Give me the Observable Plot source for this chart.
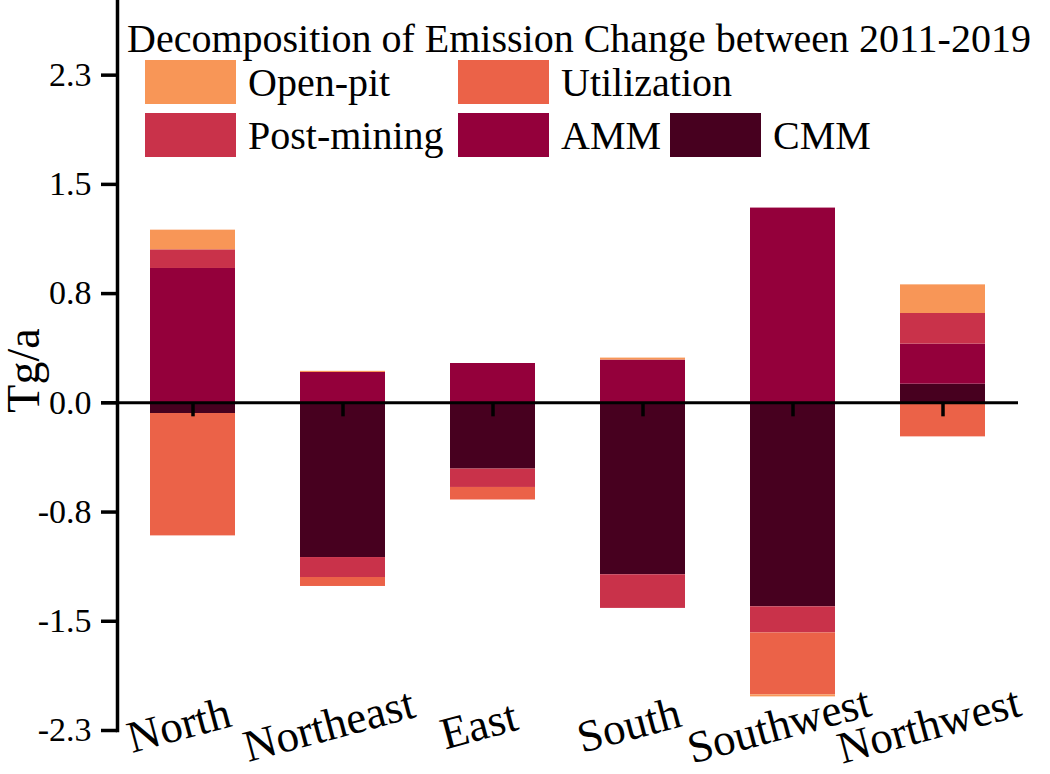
<!DOCTYPE html>
<html>
<head>
<meta charset="utf-8">
<script src="https://cdn.jsdelivr.net/npm/d3@7"></script>
<script src="https://cdn.jsdelivr.net/npm/@observablehq/plot@0.6"></script>
<style>
  html, body { margin: 0; padding: 0; background: white; }
  #wrap { position: relative; width: 1050px; height: 774px; }
  #legend { position: absolute; left: 0; top: 0; pointer-events: none; }
  #wrap svg text { font-family: 'Liberation Serif', 'Times New Roman', serif; }
</style>
</head>
<body>
<div id="wrap"></div>
<script>
// ---- data ----
const regions = ["North", "Northeast", "East", "South", "Southwest", "Northwest"];
const components = ["CMM", "AMM", "Post-mining", "Utilization", "Open-pit"]; // stacking order
const cmm        = [-0.075, -1.086, -0.465, -1.207, -1.432, 0.131];
const amm        = [ 0.943,  0.213,  0.276,  0.300,  1.367, 0.281];
const postMining = [ 0.131, -0.140, -0.129, -0.236, -0.183, 0.215];
const utilization= [-0.859, -0.063, -0.088,  0.000, -0.435, -0.239];
const openPit    = [ 0.138,  0.008,  0.000,  0.014, -0.014, 0.201];
const colors = ["#47001F", "#94003B", "#C9324A", "#EB6248", "#F89657"];
const yTicks = [-2.3, -1.5333, -0.7667, 0, 0.7667, 1.5333, 2.3];
const yTickLabels = ["-2.3", "-1.5", "-0.8", "0.0", "0.8", "1.5", "2.3"];
const legendTitle = "Decomposition of Emission Change between 2011-2019";
const legendOrder = ["Open-pit", "Utilization", "Post-mining", "AMM", "CMM"];
const yLabel = "Tg/a";

// ---- table ----
const series = [cmm, amm, postMining, utilization, openPit];
const data = [];
regions.forEach((r, i) => {
  components.forEach((c, j) => data.push({region: r, component: c, value: series[j][i]}));
});

const font = "Liberation Serif";

const chart = Plot.plot({
  width: 1050,
  height: 774,
  marginLeft: 117,
  marginRight: 32,
  marginTop: 0,
  marginBottom: 44,
  style: {fontFamily: font, background: "white", color: "black", overflow: "visible"},
  x: {domain: regions, paddingInner: 0.435, paddingOuter: 0.209, axis: null},
  y: {domain: [-2.3, 2.824], axis: null},
  color: {domain: components, range: colors},
  marks: [
    Plot.barY(data, {x: "region", y: "value", fill: "component"}),
    Plot.ruleY([0], {stroke: "black", strokeWidth: 3, insetLeft: -16}),
    Plot.ruleX(regions, {x: d => d, y1: () => 0, y2: () => 0, insetBottom: -14, stroke: "black", strokeWidth: 3.5}),
    Plot.axisY({
      ticks: yTicks,
      tickFormat: (d) => yTickLabels[yTicks.indexOf(d)],
      tickSize: 16,
      tickPadding: 10,
      strokeWidth: 3.5,
      fontSize: 34,
      fontFamily: font,
      label: null
    }),
    Plot.frame({anchor: "left", stroke: "black", strokeWidth: 3.5}),
    Plot.text(regions, {
      x: d => d, text: d => d, frameAnchor: "bottom",
      dx: -14, dy: -5, rotate: -15, fontSize: 45, fontFamily: font,
      lineAnchor: "middle", textAnchor: "middle", fill: "black"
    }),
    Plot.text([yLabel], {
      text: d => d, frameAnchor: "left", dx: -93, dy: 5, rotate: -90,
      fontSize: 46, fontFamily: font, lineAnchor: "middle", textAnchor: "middle", fill: "black"
    })
  ]
});

const wrap = document.getElementById("wrap");
wrap.appendChild(chart);

// ---- legend overlay ----
const slots = {"Open-pit": [0, 0], "Utilization": [1, 0], "Post-mining": [0, 1], "AMM": [1, 1], "CMM": [2, 1]};
const colX = [145, 458, 670];
const rowY = [60, 113];
const patchW = 91, patchH = 44;
const lg = d3.create("svg")
  .attr("id", "legend")
  .attr("width", 1050).attr("height", 774)
  .style("font-family", font);
lg.append("text")
  .attr("x", 127).attr("y", 52)
  .attr("font-size", 40)
  .attr("fill", "black")
  .text(legendTitle);
legendOrder.forEach(name => {
  const [c, r] = slots[name];
  const col = colors[components.indexOf(name)];
  lg.append("rect")
    .attr("x", colX[c]).attr("y", rowY[r])
    .attr("width", patchW).attr("height", patchH)
    .attr("fill", col);
  lg.append("text")
    .attr("x", colX[c] + patchW + 12).attr("y", rowY[r] + 36)
    .attr("font-size", 40)
    .attr("fill", "black")
    .text(name);
});
wrap.appendChild(lg.node());
</script>
</body>
</html>
